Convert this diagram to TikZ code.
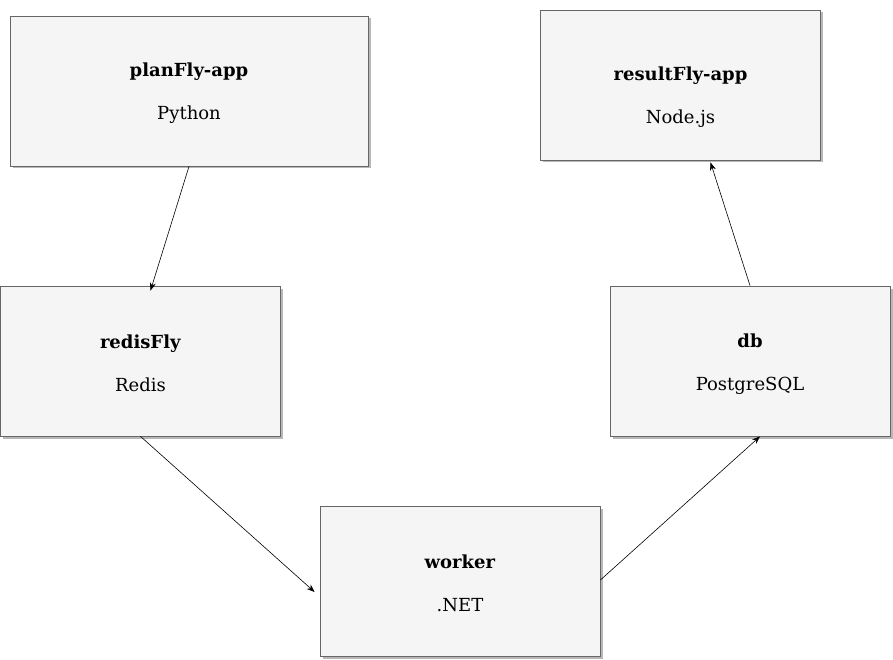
\documentclass[tikz,border=0pt]{standalone}
\usepackage{fontspec}
\setmainfont{DejaVu Serif}
\usepackage{tikz}
\usetikzlibrary{arrows.meta, shadows}
\definecolor{boxfill}{HTML}{F5F5F5}
\definecolor{boxline}{HTML}{666666}
\tikzstyle{service} = [rectangle, minimum width=280pt, minimum height=150pt, text centered, align=center, draw=boxline, fill=boxfill, line width=0.8pt, font=\fontsize{18}{22}\selectfont, drop shadow={shadow xshift=2.5pt, shadow yshift=-2.5pt, fill=black!28, opacity=1}]
\tikzstyle{arrow} = [line width=0.6pt, -{Stealth[length=8pt, width=6pt]}]
\newcommand{\svc}[3][19pt]{\rule{0pt}{#1}\textbf{#2}\\[21pt]#3}

\begin{document}
\begin{tikzpicture}[x=1pt, y=-1pt]
		\useasboundingbox (0,0) rectangle (893,660);
		\node (plan) [service, minimum width=358pt] at (189,91) {\svc{planFly-app}{Python}};
		\node (result) [service] at (680.5,85) {\svc[39pt]{resultFly-app}{Node.js}};
		\node (redis) [service] at (140.5,361) {\svc{redisFly}{Redis}};
		\node (db) [service] at (750,361) {\svc{db}{PostgreSQL}};
		\node (worker) [service] at (460,581) {\svc{worker}{.NET}};
		
		\draw [arrow] (plan.south) -- ([xshift=10pt, yshift=-5pt]redis.north);
		\draw [arrow] (redis.south) -- ([xshift=-5pt, yshift=-11pt]worker.west);
		\draw [arrow] ([yshift=1pt]worker.east) -- ([xshift=10pt]db.south);
		\draw [arrow] (db.north) -- ([xshift=30pt, yshift=-2pt]result.south);
	\end{tikzpicture}
\end{document}
